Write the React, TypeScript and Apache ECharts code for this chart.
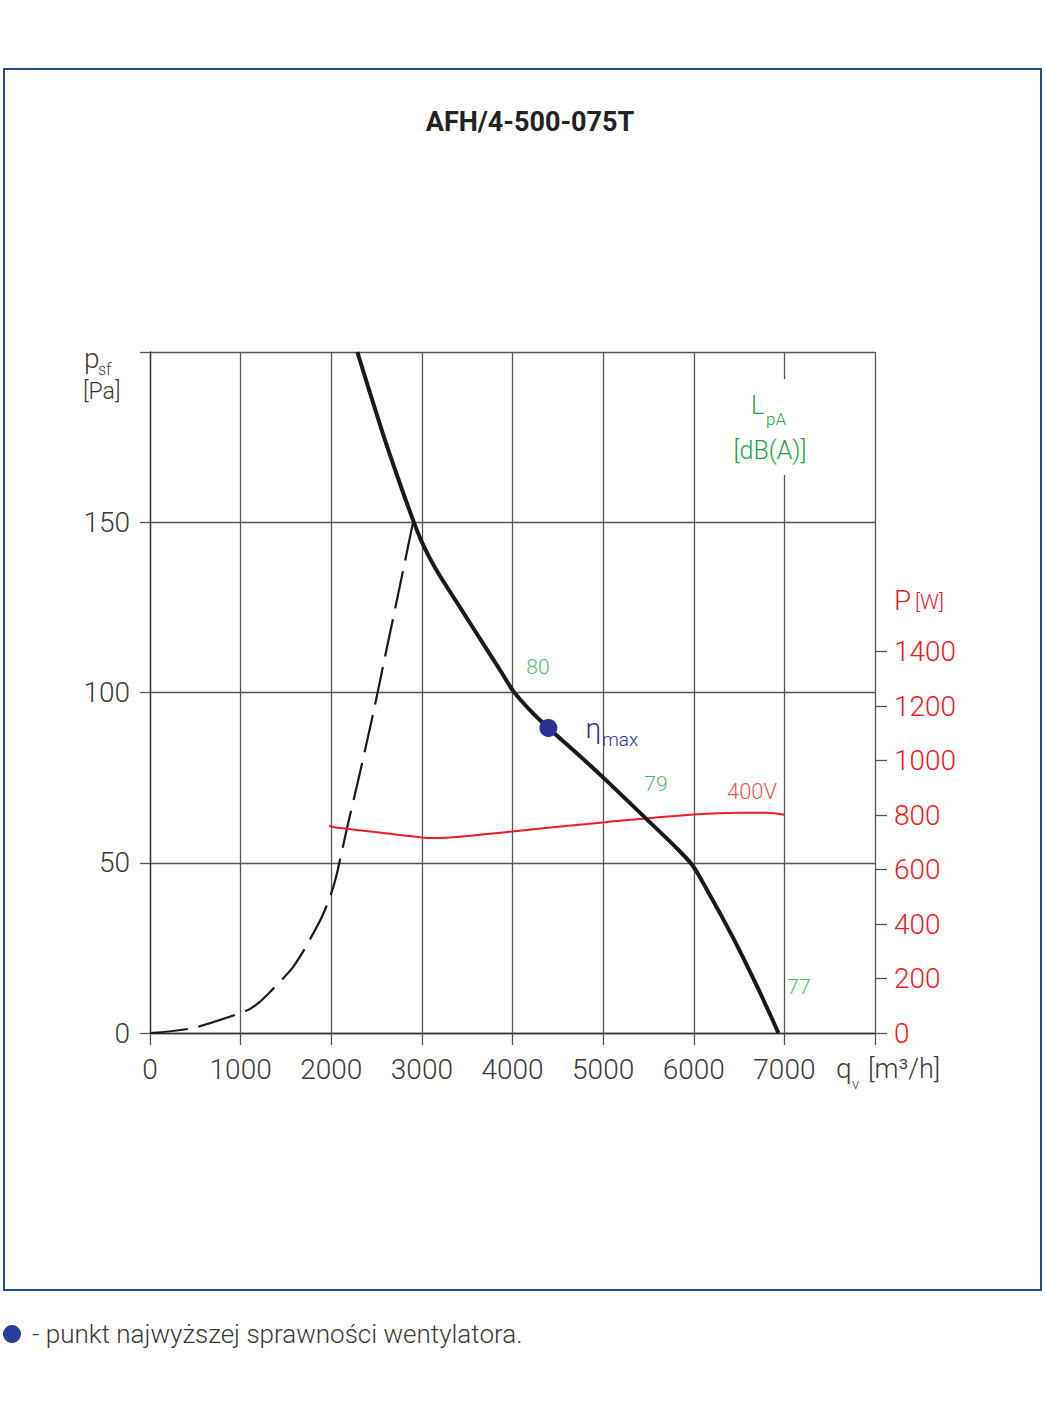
import React, { useEffect, useRef } from 'react';
import * as echarts from 'echarts';

const TITLE = 'AFH/4-500-075T';
const LEGEND_TEXT = '- punkt najwyższej sprawności wentylatora.';

// Fan curve p_sf [Pa] vs q_v [m3/h]
const fanQ = [2288, 2430, 2575, 2740, 2906, 2998, 3100, 3200, 3421, 3641, 3862, 4009, 4200, 4396, 4700, 5002, 5480, 5848, 5995, 6145, 6295, 6495, 6695, 6845, 6934];
const fanP = [200, 187.8, 175.6, 162.7, 150.4, 144.3, 138.8, 134.2, 125.0, 115.8, 106.6, 100.4, 94.6, 89.6, 82.4, 75.0, 62.8, 53.3, 48.9, 42.1, 34.9, 24.8, 13.9, 5.3, 0];

// System (installation) curve, dashed
const sysQ = [0, 460, 993, 1100, 1200, 1300, 1471, 1582, 1700, 1802, 1900, 1994, 2050, 2097, 2170, 2299, 2464, 2587, 2711, 2864, 2906];
const sysP = [0, 1.4, 5.8, 7.0, 8.9, 11.4, 16.1, 19.5, 24.4, 29.3, 34.3, 40.5, 45.5, 50.9, 59.7, 74.4, 94, 109.7, 125.4, 145, 150.4];

// Power P [W] at 400V
const powQ = [1980, 2000, 2500, 3000, 3100, 3500, 4000, 5000, 6000, 6500, 6800, 7000];
const powW = [763, 757, 737, 718, 716, 723, 740, 773, 802, 809, 809, 801];

// Max efficiency point
const etaQ = 4396;
const etaP = 89.6;

// Noise level labels LpA [dB(A)]
const noiseQ = [4281, 5583, 7161];
const noiseP = [107.6, 73.2, 13.5];
const noiseText = ['80', '79', '77'];

// Voltage label (on pressure scale)
const voltQ = 6643;
const voltP = 70.9;
const voltText = '400V';

const xMax = 8000;
const xInterval = 1000;
const yMax = 200;
const yInterval = 50;
const pMax = 2500;
const powerTicks = [0, 200, 400, 600, 800, 1000, 1200, 1400];

const FONT = 'Roboto';
const TXT = '#3a3a3a';
const GREEN = '#1aa64a';
const RED = '#ed1c24';
const BLUE = '#2e3192';
const GRIDC = '#555555';

const zip = (a: number[], b: number[]) => a.map((v, i) => [v, b[i]]);

export default function App() {
  const ref = useRef<HTMLDivElement>(null);
  useEffect(() => {
    if (!ref.current) return;
    const chart = echarts.init(ref.current, undefined, { renderer: 'svg' });
    const option: any = {
      animation: false,
      backgroundColor: '#ffffff',
      textStyle: { fontFamily: FONT, fontWeight: 300 },
      grid: { left: 150, right: 170, top: 352, bottom: 382, containLabel: false },
      xAxis: {
        type: 'value',
        min: 0,
        max: xMax,
        interval: xInterval,
        axisLine: { show: true, lineStyle: { color: '#333', width: 1.3 } },
        axisTick: { show: true, length: 12, lineStyle: { color: GRIDC, width: 1.3 } },
        axisLabel: {
          margin: 22,
          fontSize: 28,
          fontFamily: FONT,
          fontWeight: 300,
          color: TXT,
          formatter: (v: number) => (v === xMax ? '' : String(v)),
        },
        splitLine: { show: true, lineStyle: { color: GRIDC, width: 1.3 } },
      },
      yAxis: [
        {
          type: 'value',
          min: 0,
          max: yMax,
          interval: yInterval,
          axisLine: { show: true, lineStyle: { color: '#333', width: 1.3 } },
          axisTick: { show: true, length: 10, lineStyle: { color: GRIDC, width: 1.3 } },
          axisLabel: {
            margin: 20,
            fontSize: 28,
            fontFamily: FONT,
            fontWeight: 300,
            color: TXT,
            formatter: (v: number) => (v === yMax ? '' : String(v)),
          },
          splitLine: { show: true, lineStyle: { color: GRIDC, width: 1.3 } },
        },
        {
          type: 'value',
          position: 'right',
          min: 0,
          max: pMax,
          axisLine: { show: false },
          axisTick: {
            show: true,
            length: 12,
            customValues: powerTicks,
            lineStyle: { color: GRIDC, width: 1.3 },
          },
          axisLabel: {
            margin: 19,
            fontSize: 28,
            fontFamily: FONT,
            fontWeight: 300,
            color: RED,
            customValues: powerTicks,
            formatter: (v: number) => String(v),
          },
          splitLine: { show: false },
        },
      ],
      series: [
        {
          type: 'line',
          name: 'fan',
          data: zip(fanQ, fanP),
          showSymbol: false,
          smooth: 0.3,
          lineStyle: { color: '#1a1a1a', width: 4 },
          z: 5,
        },
        {
          type: 'line',
          name: 'system',
          data: zip(sysQ, sysP),
          showSymbol: false,
          smooth: 0.3,
          lineStyle: { color: '#1a1a1a', width: 2.2, type: [38, 11] },
          z: 4,
        },
        {
          type: 'line',
          name: 'power',
          yAxisIndex: 1,
          data: zip(powQ, powW),
          showSymbol: false,
          smooth: 0.4,
          lineStyle: { color: RED, width: 2 },
          z: 4,
        },
        {
          type: 'scatter',
          name: 'eta',
          data: [[etaQ, etaP]],
          symbolSize: 18,
          itemStyle: { color: BLUE, opacity: 1 },
          z: 6,
          label: {
            show: true,
            position: 'right',
            distance: 28,
            formatter: '{a|η}{b|max}',
            rich: {
              a: { fontSize: 28, color: BLUE, fontFamily: FONT, fontWeight: 300, verticalAlign: 'bottom', lineHeight: 30 },
              b: { fontSize: 19, color: BLUE, fontFamily: FONT, fontWeight: 300, verticalAlign: 'bottom', lineHeight: 19, padding: [0, 0, -6, 1] },
            },
          },
        },
        {
          type: 'scatter',
          name: 'noise',
          data: noiseQ.map((q, i) => ({ value: [q, noiseP[i]], name: noiseText[i] })),
          symbolSize: 0,
          silent: true,
          label: {
            show: true,
            position: 'inside',
            formatter: (p: any) => p.name,
            fontSize: 21,
            fontFamily: FONT,
            fontWeight: 300,
            color: GREEN,
          },
        },
        {
          type: 'scatter',
          name: 'volt',
          data: [{ value: [voltQ, voltP], name: voltText }],
          symbolSize: 0,
          silent: true,
          label: {
            show: true,
            position: 'inside',
            formatter: (p: any) => p.name,
            fontSize: 22,
            fontFamily: FONT,
            fontWeight: 300,
            color: RED,
          },
        },
      ],
      graphic: [
        {
          type: 'rect',
          z: 100,
          shape: { x: 4, y: 69, width: 1037, height: 1221 },
          style: { fill: 'none', stroke: '#1f4e8d', lineWidth: 2 },
        },
        {
          type: 'text',
          z: 100,
          x: 530,
          y: 122,
          style: { text: TITLE, fontSize: 27, fontWeight: 'bold', fontFamily: FONT, fill: '#222', align: 'center', verticalAlign: 'middle' },
        },
        // p_sf [Pa]
        { type: 'text', z: 100, x: 84, y: 358, style: { text: 'p', fontSize: 28, fontFamily: FONT, fontWeight: 300, fill: TXT, align: 'left', verticalAlign: 'middle' } },
        { type: 'text', z: 100, x: 98, y: 369, style: { text: 'sf', fontSize: 16, fontFamily: FONT, fontWeight: 300, fill: TXT, align: 'left', verticalAlign: 'middle' } },
        { type: 'text', z: 100, x: 83, y: 391, style: { text: '[Pa]', fontSize: 23, fontFamily: FONT, fontWeight: 300, fill: TXT, align: 'left', verticalAlign: 'middle' } },
        // LpA [dB(A)] with white backing over grid line
        { type: 'rect', z: 90, shape: { x: 770, y: 379, width: 30, height: 96 }, style: { fill: '#ffffff' } },
        { type: 'text', z: 100, x: 751, y: 405, style: { text: 'L', fontSize: 25, fontFamily: FONT, fontWeight: 300, fill: GREEN, align: 'left', verticalAlign: 'middle' } },
        { type: 'text', z: 100, x: 766, y: 419, style: { text: 'pA', fontSize: 17, fontFamily: FONT, fontWeight: 300, fill: GREEN, align: 'left', verticalAlign: 'middle' } },
        { type: 'text', z: 100, x: 770, y: 450, style: { text: '[dB(A)]', fontSize: 25, fontFamily: FONT, fontWeight: 300, fill: GREEN, align: 'center', verticalAlign: 'middle' } },
        // P [W]
        { type: 'text', z: 100, x: 894, y: 600, style: { text: 'P', fontSize: 28, fontFamily: FONT, fontWeight: 300, fill: RED, align: 'left', verticalAlign: 'middle' } },
        { type: 'text', z: 100, x: 915, y: 602, style: { text: '[W]', fontSize: 21, fontFamily: FONT, fontWeight: 300, fill: RED, align: 'left', verticalAlign: 'middle' } },
        // q_v [m3/h]
        { type: 'text', z: 100, x: 836, y: 1068, style: { text: 'q', fontSize: 28, fontFamily: FONT, fontWeight: 300, fill: TXT, align: 'left', verticalAlign: 'middle' } },
        { type: 'text', z: 100, x: 852, y: 1084, style: { text: 'v', fontSize: 15, fontFamily: FONT, fontWeight: 300, fill: TXT, align: 'left', verticalAlign: 'middle' } },
        { type: 'text', z: 100, x: 868, y: 1069, style: { text: '[m³/h]', fontSize: 27, fontFamily: FONT, fontWeight: 300, fill: TXT, align: 'left', verticalAlign: 'middle' } },
        // legend
        { type: 'circle', z: 100, shape: { cx: 12, cy: 1334, r: 9 }, style: { fill: '#2a3f9d' } },
        { type: 'text', z: 100, x: 32, y: 1334, style: { text: LEGEND_TEXT, fontSize: 26, fontFamily: FONT, fontWeight: 300, fill: TXT, align: 'left', verticalAlign: 'middle' } },
      ],
    };
    chart.setOption(option);
    return () => chart.dispose();
  }, []);
  return (
    <div
      ref={ref}
      style={{ position: 'absolute', left: 0, top: 0, width: 1045, height: 1415, background: '#fff' }}
    />
  );
}
